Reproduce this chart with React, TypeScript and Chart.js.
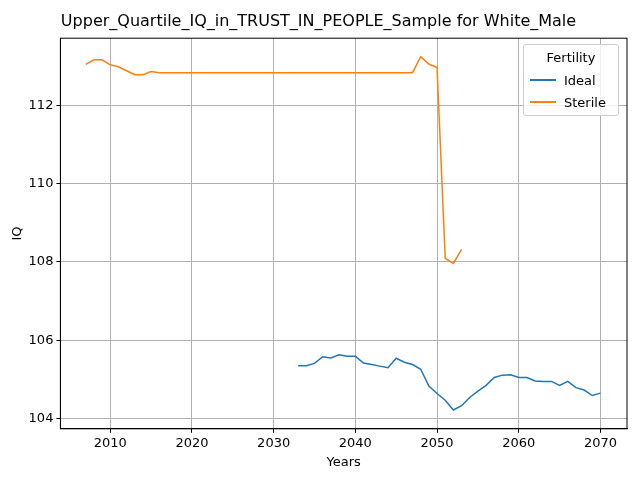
import React, { useEffect, useRef } from "react";
import { Chart, registerables } from "chart.js";
Chart.register(...registerables);

const idealYears = Array.from({ length: 38 }, (_, i) => 2033 + i);
const idealValues = [105.35,105.35,105.41,105.58,105.55,105.63,105.59,105.59,105.42,105.38,105.34,105.30,105.54,105.44,105.38,105.26,104.83,104.64,104.47,104.22,104.33,104.54,104.70,104.85,105.05,105.11,105.12,105.05,105.05,104.96,104.95,104.95,104.85,104.95,104.79,104.73,104.59,104.65];
const sterileYears = Array.from({ length: 47 }, (_, i) => 2007 + i);
const sterileValues = [113.04,113.16,113.16,113.03,112.98,112.88,112.78,112.78,112.86,112.83,
  ...Array(31).fill(112.83),113.24,113.05,112.96,108.09,107.96,108.32];
const xTicks = [2010,2020,2030,2040,2050,2060,2070];
const yTicks = [104,106,108,110,112];

const frame = {
  id: "frame",
  afterDraw(c: any) {
    const { ctx, chartArea: a } = c;
    ctx.save(); ctx.strokeStyle = "#000"; ctx.lineWidth = 1;
    ctx.strokeRect(a.left, a.top, a.right - a.left, a.bottom - a.top);
    ctx.restore();
  },
};

export default function App() {
  const ref = useRef<HTMLCanvasElement>(null);
  useEffect(() => {
    document.body.style.margin = "0";
    const font = { family: "DejaVu Sans", size: 13 };
    const c = new Chart(ref.current!, {
      type: "line",
      plugins: [frame],
      data: {
        datasets: [
          { label: "Ideal", data: idealYears.map((x, i) => ({ x, y: idealValues[i] })), borderColor: "#1f77b4", backgroundColor: "#1f77b4", borderWidth: 1.5, pointRadius: 0, tension: 0 },
          { label: "Sterile", data: sterileYears.map((x, i) => ({ x, y: sterileValues[i] })), borderColor: "#ff7f0e", backgroundColor: "#ff7f0e", borderWidth: 1.5, pointRadius: 0, tension: 0 },
        ],
      },
      options: {
        animation: false, responsive: false,
        layout: { padding: { left: 10, right: 13, top: 0, bottom: 10 } },
        plugins: {
          legend: { display: false },
          title: { display: true, text: "Upper_Quartile_IQ_in_TRUST_IN_PEOPLE_Sample for White_Male", font: { family: "DejaVu Sans", size: 16, weight: "normal" }, color: "#000", padding: { top: 12, bottom: 7 } },
        },
        scales: {
          x: { type: "linear", min: 2003.9, max: 2073.25, afterBuildTicks: (a: any) => { a.ticks = xTicks.map(v => ({ value: v })); },
            ticks: { font, color: "#000", callback: (v: any) => String(v), maxRotation: 0 },
            grid: { color: "#b0b0b0", tickLength: 4, tickColor: "#000" }, border: { color: "#000" },
            title: { display: true, text: "Years", font, color: "#000", padding: 0 } },
          y: { min: 103.74, max: 113.71, afterBuildTicks: (a: any) => { a.ticks = yTicks.map(v => ({ value: v })); },
            ticks: { font, color: "#000", callback: (v: any) => String(v) },
            grid: { color: "#b0b0b0", tickLength: 4, tickColor: "#000" }, border: { color: "#000" },
            title: { display: true, text: "IQ", font, color: "#000", padding: 0 } },
        },
      },
    });
    return () => c.destroy();
  }, []);
  const item = (color: string, label: string) => (
    <div style={{ display: "flex", alignItems: "center", height: 22 }}>
      <div style={{ width: 26, height: 2, background: color, marginRight: 8 }} />
      <span>{label}</span>
    </div>
  );
  return (
    <div style={{ position: "relative", width: 640, height: 480 }}>
      <canvas ref={ref} width={640} height={480} />
      <div style={{ position: "absolute", left: 523, top: 44, width: 82, padding: "2px 6px", border: "1px solid #ccc", borderRadius: 3, background: "rgba(255,255,255,0.8)", font: "13px 'DejaVu Sans'", color: "#000" }}>
        <div style={{ textAlign: "center", height: 22, lineHeight: "22px" }}>Fertility</div>
        {item("#1f77b4", "Ideal")}
        {item("#ff7f0e", "Sterile")}
      </div>
    </div>
  );
}
